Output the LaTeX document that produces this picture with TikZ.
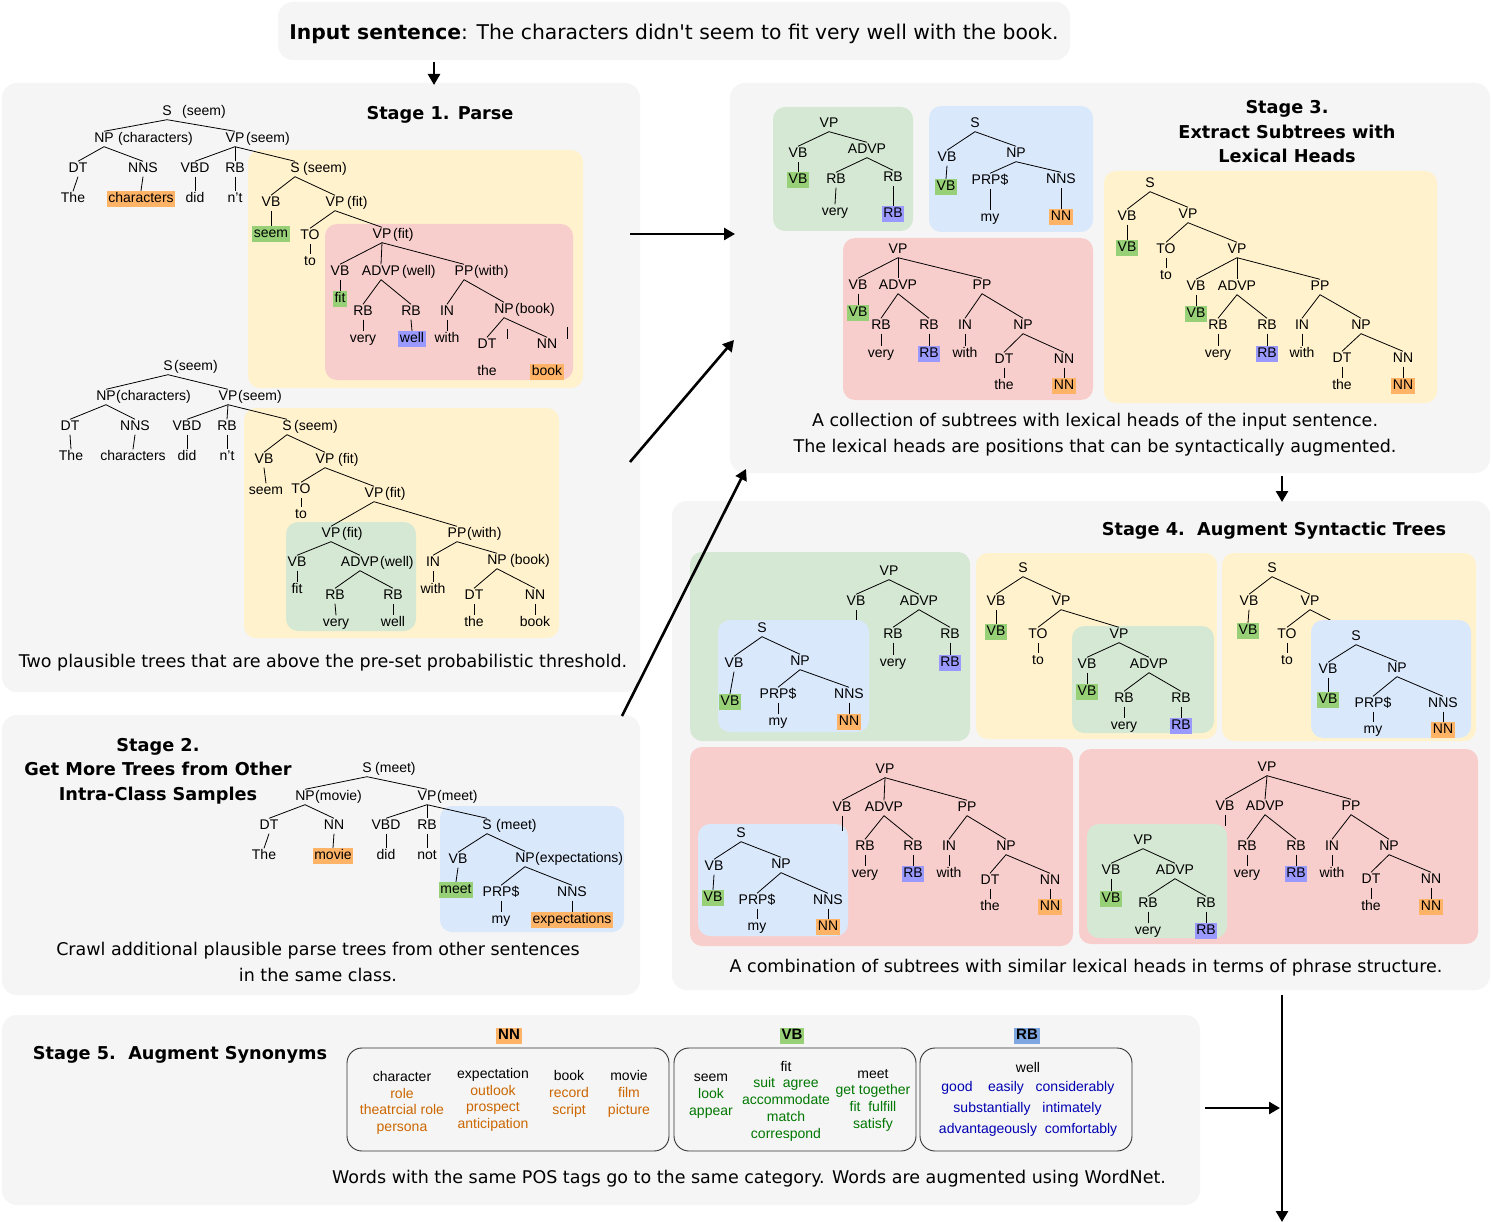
\documentclass[tikz,border=0pt]{standalone}
\usepackage{fontspec}
\setmainfont{Liberation Sans}
\newfontfamily\vfont{DejaVu Sans}
\usetikzlibrary{arrows.meta}
\definecolor{panel}{HTML}{F5F5F5}
\definecolor{byel}{HTML}{FFF2CC}
\definecolor{bpink}{HTML}{F8CECC}
\definecolor{bgreen}{HTML}{D5E8D4}
\definecolor{bblue}{HTML}{DAE8FC}
\definecolor{hor}{HTML}{FFB366}
\definecolor{hgr}{HTML}{97D077}
\definecolor{hbl}{HTML}{9999FF}
\definecolor{hbltwo}{HTML}{7EA6E0}
\definecolor{wor}{HTML}{CC6600}
\definecolor{wgr}{HTML}{007700}
\definecolor{wbl}{HTML}{0000B3}
\tikzset{
 tl/.style={font=\fontsize{14}{16}\selectfont, inner xsep=0.5pt, inner ysep=1pt, text height=10pt, text depth=3pt, yshift=-2pt},
 hlt/.style={tl, inner xsep=1.5pt, inner ysep=1.5pt},
 tedge/.style={line width=0.8pt},
 arr/.style={line width=2.6pt,-{Triangle[length=11pt,width=12pt]}},
 panelbox/.style={fill=panel, rounded corners=15pt},
 tbox/.style={rounded corners=12pt},
 synbox/.style={draw=black!80, line width=0.9pt, rounded corners=15pt},
 ttl/.style={font=\vfont\bfseries\fontsize{17.7}{24.5}\selectfont, align=center, inner sep=0pt, yshift=-2pt},
 capt/.style={font=\vfont\fontsize{17.5}{26}\selectfont, align=center, inner sep=0pt, yshift=-2.5pt},
 syn/.style={font=\fontsize{14}{16.7}\selectfont, align=center, inner sep=0pt, yshift=-2pt},
 hdr/.style={font=\bfseries\fontsize{15}{17}\selectfont, inner xsep=2pt, inner ysep=1pt, text height=11pt, text depth=3pt, yshift=-1.5pt},
}
\newcommand\TN[4]{\node[tl] (#1) at (#2,#3) {#4};}
\newcommand\TNH[6]{\node[tl] (#1) at (#2,#3) {#4};\node[tl,anchor=west,inner xsep=0pt] (#1h) at (#5,#3) {#6};}
\newcommand\THL[5]{\node[hlt,fill=#5] (#1) at (#2,#3) {#4};}
\newcommand\TE[2]{\foreach \kid in {#2}{\draw[tedge] (#1.south) -- (\kid.north);}}
\begin{document}
\begin{tikzpicture}[x=1pt,y=-1pt]
\useasboundingbox (0,0) rectangle (1493,1222);
\fill[white] (0,0) rectangle (1493,1222);
% panels
\fill[panelbox] (278,2) rectangle (1070,60);
\fill[panelbox] (2,83) rectangle (640,692);
\fill[panelbox] (2,715) rectangle (640,995);
\fill[panelbox] (730,83) rectangle (1490,473);
\fill[panelbox] (672,501) rectangle (1490,990);
\fill[panelbox] (2,1015) rectangle (1200,1205);
% tree boxes
\fill[tbox,byel] (248,150) rectangle (583,388);
\fill[tbox,bpink] (325,224) rectangle (573,380);
\fill[tbox,byel] (244,408) rectangle (559,638);
\fill[tbox,bgreen] (286,522) rectangle (416,631);
\fill[tbox,bblue] (440,806) rectangle (624,932);
\fill[tbox,bgreen] (773,107) rectangle (913,231);
\fill[tbox,bblue] (929,106) rectangle (1093,232);
\fill[tbox,bpink] (843,238) rectangle (1093,400);
\fill[tbox,byel] (1104,171) rectangle (1437,403);
\fill[tbox,bgreen] (690,552) rectangle (970,741);
\fill[tbox,byel] (976,553) rectangle (1217,739);
\fill[tbox,byel] (1222,553) rectangle (1476,741);
\fill[tbox,bpink] (690,747) rectangle (1073,946);
\fill[tbox,bpink] (1079,749) rectangle (1478,944);
% stubs hidden under inner boxes
\TN{hVB}{856}{600}{VB}
\coordinate (hst) at (856,622);
\draw[tedge] (hVB.south) -- (hst);
\TN{jVP}{1310}{600}{VP}
\coordinate (jst) at (1334,622);
\draw[tedge] (jVP.south) -- (jst);
\fill[tbox,bblue] (718,620) rectangle (869,732);
\fill[tbox,bgreen] (1072,626) rectangle (1214,733);
\fill[tbox,bblue] (1311,620) rectangle (1471,738);
\fill[tbox,bblue] (698,824) rectangle (848,936);
\fill[tbox,bgreen] (1087,824) rectangle (1227,938);
% synonym boxes
\draw[synbox] (347,1048) rectangle (669,1151);
\draw[synbox] (674,1048) rectangle (916,1151);
\draw[synbox] (920,1048) rectangle (1132,1151);
% arrows
\coordinate (ar1a) at (434,62); \coordinate (ar1b) at (434,85);
\coordinate (ar2a) at (630,234); \coordinate (ar2b) at (735,234);
\coordinate (ar3a) at (630,462); \coordinate (ar3b) at (734,340);
\coordinate (ar4a) at (622,716); \coordinate (ar4b) at (746,469);
\coordinate (ar5a) at (1282,476); \coordinate (ar5b) at (1282,502);
\coordinate (ar6a) at (1282,995); \coordinate (ar6b) at (1282,1222);
\coordinate (ar7a) at (1205,1108); \coordinate (ar7b) at (1280,1108);
\foreach \a in {1,...,7}{\draw[arr] (ar\a a) -- (ar\a b);}
% input
\node[font=\vfont\fontsize{20.3}{24}\selectfont, inner sep=0pt, yshift=-3pt] (inp) at (674,31) {\textbf{Input sentence}: The characters didn't seem to fit very well with the book.};
% titles
\node[ttl] (t1) at (440,113) {Stage 1. Parse};
\node[ttl] (t2) at (158,769) {Stage 2.\\Get More Trees from Other\\Intra-Class Samples};
\node[ttl] (t3) at (1287,130) {Stage 3.\\Extract Subtrees with\\Lexical Heads};
\node[ttl] (t4) at (1274,529) {Stage 4.\ \ Augment Syntactic Trees};
\node[ttl] (t5) at (180,1053) {Stage 5.\ \ Augment Synonyms};
% captions
\node[capt] (c1) at (323,660) {Two plausible trees that are above the pre-set probabilistic threshold.};
\node[capt] (c2) at (318,959) {Crawl additional plausible parse trees from other sentences\\in the same class.};
\node[capt] (c3) at (1095,432) {A collection of subtrees with lexical heads of the input sentence.\\The lexical heads are positions that can be syntactically augmented.};
\node[capt] (c4) at (1086,965) {A combination of subtrees with similar lexical heads in terms of phrase structure.};
\node[capt] (c5) at (749,1176) {Words with the same POS tags go to the same category. Words are augmented using WordNet.};
% ===== Tree A =====
\TNH{aS}{167}{110}{S}{182}{(seem)}
\TNH{aNP}{104}{137}{NP}{118}{(characters)}
\TNH{aVP}{235}{137}{VP}{246}{(seem)}
\TN{aDT}{78}{167}{DT}
\TN{aNNS}{143}{167}{NNS}
\TN{aVBD}{195}{167}{VBD}
\TN{aRB}{235}{167}{RB}
\TNH{aS2}{295}{167}{S}{303}{(seem)}
\TN{aw1}{73}{197}{The}
\THL{aw2}{141}{197}{characters}{hor}
\TN{aw3}{195}{197}{did}
\TN{aw4}{235}{197}{n't}
\TN{aVB}{271}{201}{VB}
\TNH{aVP2}{335}{201}{VP}{347}{(fit)}
\THL{aw5}{271}{232}{seem}{hgr}
\TN{aTO}{310}{234}{TO}
\TN{aw6}{310}{260}{to}
\TNH{aVP3}{382}{233}{VP}{393}{(fit)}
\TN{aVB2}{340}{270}{VB}
\TNH{aADVP}{381}{270}{ADVP}{402}{(well)}
\TNH{aPP}{464}{270}{PP}{474}{(with)}
\THL{aw7}{340}{297}{fit}{hgr}
\TN{aRB1}{363}{310}{RB}
\TN{aRB2}{411}{310}{RB}
\TN{aIN}{447}{310}{IN}
\TNH{aNP2}{504}{308}{NP}{515}{(book)}
\TN{aw8}{363}{337}{very}
\THL{aw9}{412}{337}{well}{hbl}
\TN{aw10}{447}{337}{with}
\TN{aDT2}{487}{343}{DT}
\TN{aNN}{547}{343}{NN}
\TN{aw11}{487}{370}{the}
\THL{aw12}{547}{370}{book}{hor}
\TE{aS}{aNP,aVP}\TE{aNP}{aDT,aNNS}\TE{aVP}{aVBD,aRB,aS2}
\TE{aDT}{aw1}\TE{aNNS}{aw2}\TE{aVBD}{aw3}\TE{aRB}{aw4}
\TE{aS2}{aVB,aVP2}\TE{aVB}{aw5}\TE{aVP2}{aTO,aVP3}\TE{aTO}{aw6}
\TE{aVP3}{aVB2,aADVP,aPP}\TE{aVB2}{aw7}\TE{aADVP}{aRB1,aRB2}\TE{aPP}{aIN,aNP2}
\TE{aRB1}{aw8}\TE{aRB2}{aw9}\TE{aIN}{aw10}\TE{aNP2}{aDT2,aNN}
\coordinate (sa1) at (507,329); \coordinate (sa2) at (507,339);
\coordinate (sb1) at (567,327); \coordinate (sb2) at (567,339);
\draw[tedge] (sa1) -- (sa2); \draw[tedge] (sb1) -- (sb2);
% ===== Tree B =====
\TNH{bS}{168}{365}{S}{174}{(seem)}
\TNH{bNP}{106}{395}{NP}{116}{(characters)}
\TNH{bVP}{228}{395}{VP}{238}{(seem)}
\TN{bDT}{70}{425}{DT}
\TN{bNNS}{135}{425}{NNS}
\TN{bVBD}{187}{425}{VBD}
\TN{bRB}{227}{425}{RB}
\TNH{bS2}{287}{425}{S}{294}{(seem)}
\TN{bw1}{71}{455}{The}
\TN{bw2}{133}{455}{characters}
\TN{bw3}{187}{455}{did}
\TN{bw4}{227}{455}{n't}
\TN{bVB}{264}{458}{VB}
\TNH{bVP2}{325}{458}{VP}{338}{(fit)}
\TN{bw5}{266}{489}{seem}
\TN{bTO}{301}{488}{TO}
\TN{bw6}{301}{513}{to}
\TNH{bVP3}{374}{492}{VP}{385}{(fit)}
\TNH{bVP4}{331}{532}{VP}{342}{(fit)}
\TNH{bPP}{457}{532}{PP}{467}{(with)}
\TN{bVB2}{297}{561}{VB}
\TNH{bADVP}{360}{561}{ADVP}{380}{(well)}
\TN{bIN}{433}{561}{IN}
\TNH{bNP2}{497}{559}{NP}{510}{(book)}
\TN{bw7}{297}{588}{fit}
\TN{bw8}{433}{588}{with}
\TN{bRB1}{335}{594}{RB}
\TN{bRB2}{393}{594}{RB}
\TN{bDT2}{474}{594}{DT}
\TN{bNN}{535}{594}{NN}
\TN{bw9}{336}{621}{very}
\TN{bw10}{393}{621}{well}
\TN{bw11}{474}{621}{the}
\TN{bw12}{535}{621}{book}
\TE{bS}{bNP,bVP}\TE{bNP}{bDT,bNNS}\TE{bVP}{bVBD,bRB,bS2}
\TE{bDT}{bw1}\TE{bNNS}{bw2}\TE{bVBD}{bw3}\TE{bRB}{bw4}
\TE{bS2}{bVB,bVP2}\TE{bVB}{bw5}\TE{bVP2}{bTO,bVP3}\TE{bTO}{bw6}
\TE{bVP3}{bVP4,bPP}\TE{bVP4}{bVB2,bADVP}\TE{bPP}{bIN,bNP2}
\TE{bVB2}{bw7}\TE{bIN}{bw8}\TE{bADVP}{bRB1,bRB2}\TE{bNP2}{bDT2,bNN}
\TE{bRB1}{bw9}\TE{bRB2}{bw10}\TE{bDT2}{bw11}\TE{bNN}{bw12}
% ===== Tree C =====
\TNH{cS}{367}{767}{S}{375}{(meet)}
\TNH{cNP}{305}{795}{NP}{315}{(movie)}
\TNH{cVP}{427}{795}{VP}{437}{(meet)}
\TN{cDT}{269}{824}{DT}
\TN{cNN}{334}{824}{NN}
\TN{cVBD}{386}{824}{VBD}
\TN{cRB}{427}{824}{RB}
\TNH{cS2}{487}{824}{S}{496}{(meet)}
\TN{cw1}{264}{854}{The}
\THL{cw2}{333}{854}{movie}{hor}
\TN{cw3}{386}{854}{did}
\TN{cw4}{427}{854}{not}
\TN{cVB}{458}{858}{VB}
\TNH{cNP2}{525}{857}{NP}{535}{(expectations)}
\THL{cw5}{456}{888}{meet}{hgr}
\TN{cPRP}{501}{891}{PRP\$}
\TN{cNNS}{572}{891}{NNS}
\TN{cw6}{501}{918}{my}
\THL{cw7}{572}{918}{expectations}{hor}
\TE{cS}{cNP,cVP}\TE{cNP}{cDT,cNN}\TE{cVP}{cVBD,cRB,cS2}
\TE{cDT}{cw1}\TE{cNN}{cw2}\TE{cVBD}{cw3}\TE{cRB}{cw4}
\TE{cS2}{cVB,cNP2}\TE{cVB}{cw5}\TE{cNP2}{cPRP,cNNS}\TE{cPRP}{cw6}\TE{cNNS}{cw7}
% ===== Stage 3 =====
\TN{dVP}{829}{122}{VP}
\TN{dVB}{798}{152}{VB}
\TN{dADVP}{867}{148}{ADVP}
\THL{dVBl}{798}{178}{VB}{hgr}
\TN{dRB1}{836}{178}{RB}
\TN{dRB2}{893}{176}{RB}
\TN{dw1}{835}{210}{very}
\THL{dRBl}{893}{212}{RB}{hbl}
\TE{dVP}{dVB,dADVP}\TE{dVB}{dVBl}\TE{dADVP}{dRB1,dRB2}\TE{dRB1}{dw1}\TE{dRB2}{dRBl}
\TN{eS}{975}{122}{S}
\TN{eVB}{947}{156}{VB}
\TN{eNP}{1016}{152}{NP}
\THL{eVBl}{946}{185}{VB}{hgr}
\TN{ePRP}{990}{179}{PRP\$}
\TN{eNNS}{1061}{178}{NNS}
\TN{ew1}{990}{216}{my}
\THL{eNNl}{1061}{215}{NN}{hor}
\TE{eS}{eVB,eNP}\TE{eVB}{eVBl}\TE{eNP}{ePRP,eNNS}\TE{ePRP}{ew1}\TE{eNNS}{eNNl}
\TN{fVP}{898}{248}{VP}
\TN{fVB}{858}{284}{VB}
\TN{fADVP}{898}{284}{ADVP}
\TN{fPP}{982}{284}{PP}
\THL{fVBl}{858}{311}{VB}{hgr}
\TN{fRB1}{881}{324}{RB}
\TN{fRB2}{929}{324}{RB}
\TN{fIN}{965}{324}{IN}
\TN{fNP}{1023}{324}{NP}
\TN{fw1}{881}{352}{very}
\THL{fRBl}{929}{352}{RB}{hbl}
\TN{fw2}{965}{352}{with}
\TN{fDT}{1004}{358}{DT}
\TN{fNN}{1064}{358}{NN}
\TN{fw3}{1004}{384}{the}
\THL{fNNl}{1064}{384}{NN}{hor}
\TE{fVP}{fVB,fADVP,fPP}\TE{fVB}{fVBl}\TE{fADVP}{fRB1,fRB2}\TE{fPP}{fIN,fNP}
\TE{fRB1}{fw1}\TE{fRB2}{fRBl}\TE{fIN}{fw2}\TE{fNP}{fDT,fNN}\TE{fDT}{fw3}\TE{fNN}{fNNl}
\TN{gS}{1150}{182}{S}
\TN{gVB}{1127}{215}{VB}
\TN{gVP}{1188}{213}{VP}
\THL{gVBl}{1127}{246}{VB}{hgr}
\TN{gTO}{1166}{248}{TO}
\TN{gw1}{1166}{274}{to}
\TN{gVP2}{1237}{248}{VP}
\TN{gVB2}{1196}{285}{VB}
\TN{gADVP}{1237}{285}{ADVP}
\TN{gPP}{1320}{285}{PP}
\THL{gVBl2}{1196}{312}{VB}{hgr}
\TN{gRB1}{1218}{324}{RB}
\TN{gRB2}{1267}{324}{RB}
\TN{gIN}{1302}{324}{IN}
\TN{gNP}{1361}{324}{NP}
\TN{gw2}{1218}{352}{very}
\THL{gRBl}{1267}{352}{RB}{hbl}
\TN{gw3}{1302}{352}{with}
\TN{gDT}{1342}{357}{DT}
\TN{gNN}{1403}{357}{NN}
\TN{gw4}{1342}{384}{the}
\THL{gNNl}{1403}{384}{NN}{hor}
\TE{gS}{gVB,gVP}\TE{gVB}{gVBl}\TE{gVP}{gTO,gVP2}\TE{gTO}{gw1}
\TE{gVP2}{gVB2,gADVP,gPP}\TE{gVB2}{gVBl2}\TE{gADVP}{gRB1,gRB2}\TE{gPP}{gIN,gNP}
\TE{gRB1}{gw2}\TE{gRB2}{gRBl}\TE{gIN}{gw3}\TE{gNP}{gDT,gNN}\TE{gDT}{gw4}\TE{gNN}{gNNl}
% ===== Stage 4 =====
\TN{hVP}{889}{570}{VP}
\TN{hADVP}{919}{600}{ADVP}
\TN{hRB1}{893}{633}{RB}
\TN{hRB2}{950}{633}{RB}
\TN{hw1}{893}{661}{very}
\THL{hRBl}{950}{661}{RB}{hbl}
\TE{hVP}{hVB,hADVP}\TE{hADVP}{hRB1,hRB2}\TE{hRB1}{hw1}\TE{hRB2}{hRBl}
\TN{hS}{762}{627}{S}
\TN{hVB2}{734}{662}{VB}
\TN{hNP}{800}{660}{NP}
\THL{hVBl}{730}{700}{VB}{hgr}
\TN{hPRP}{778}{693}{PRP\$}
\TN{hNNS}{849}{693}{NNS}
\TN{hw2}{778}{720}{my}
\THL{hNNl}{849}{720}{NN}{hor}
\TE{hS}{hVB2,hNP}\TE{hVB2}{hVBl}\TE{hNP}{hPRP,hNNS}\TE{hPRP}{hw2}\TE{hNNS}{hNNl}
\TN{iS}{1023}{567}{S}
\TN{iVB}{996}{600}{VB}
\TN{iVP}{1061}{600}{VP}
\THL{iVBl}{996}{630}{VB}{hgr}
\TN{iTO}{1038}{633}{TO}
\TN{iw1}{1038}{659}{to}
\TN{iVP2}{1119}{633}{VP}
\TN{iVB2}{1087}{663}{VB}
\TN{iADVP}{1149}{663}{ADVP}
\THL{iVBl2}{1087}{690}{VB}{hgr}
\TN{iRB1}{1124}{697}{RB}
\TN{iRB2}{1181}{697}{RB}
\TN{iw2}{1124}{724}{very}
\THL{iRBl}{1181}{724}{RB}{hbl}
\TE{iS}{iVB,iVP}\TE{iVB}{iVBl}\TE{iVP}{iTO,iVP2}\TE{iTO}{iw1}
\TE{iVP2}{iVB2,iADVP}\TE{iVB2}{iVBl2}\TE{iADVP}{iRB1,iRB2}\TE{iRB1}{iw2}\TE{iRB2}{iRBl}
\TN{jS}{1272}{567}{S}
\TN{jVB}{1249}{600}{VB}
\THL{jVBl}{1248}{629}{VB}{hgr}
\TN{jTO}{1287}{633}{TO}
\TN{jw1}{1287}{659}{to}
\TE{jS}{jVB,jVP}\TE{jVB}{jVBl}\TE{jVP}{jTO}\TE{jTO}{jw1}
\TN{jS2}{1356}{635}{S}
\TN{jVB2}{1328}{668}{VB}
\TN{jNP}{1397}{667}{NP}
\THL{jVBl2}{1328}{698}{VB}{hgr}
\TN{jPRP}{1373}{702}{PRP\$}
\TN{jNNS}{1443}{702}{NNS}
\TN{jw2}{1373}{728}{my}
\THL{jNNl}{1443}{728}{NN}{hor}
\TE{jS2}{jVB2,jNP}\TE{jVB2}{jVBl2}\TE{jNP}{jPRP,jNNS}\TE{jPRP}{jw2}\TE{jNNS}{jNNl}
\TN{kVP}{885}{768}{VP}
\TN{kVB}{842}{806}{VB}
\TN{kADVP}{884}{806}{ADVP}
\TN{kPP}{967}{806}{PP}
\coordinate (kst) at (842,831);
\draw[tedge] (kVB.south) -- (kst);
\TN{kRB1}{865}{845}{RB}
\TN{kRB2}{913}{845}{RB}
\TN{kIN}{949}{845}{IN}
\TN{kNP}{1006}{845}{NP}
\TN{kw1}{865}{872}{very}
\THL{kRBl}{913}{872}{RB}{hbl}
\TN{kw2}{949}{872}{with}
\TN{kDT}{990}{879}{DT}
\TN{kNN}{1050}{879}{NN}
\TN{kw3}{990}{905}{the}
\THL{kNNl}{1050}{905}{NN}{hor}
\TE{kVP}{kVB,kADVP,kPP}\TE{kADVP}{kRB1,kRB2}\TE{kPP}{kIN,kNP}
\TE{kRB1}{kw1}\TE{kRB2}{kRBl}\TE{kIN}{kw2}\TE{kNP}{kDT,kNN}\TE{kDT}{kw3}\TE{kNN}{kNNl}
\TN{kS}{741}{832}{S}
\TN{kVB2}{714}{865}{VB}
\TN{kNP2}{781}{863}{NP}
\THL{kVBl}{713}{896}{VB}{hgr}
\TN{kPRP}{757}{899}{PRP\$}
\TN{kNNS}{828}{899}{NNS}
\TN{kw4}{757}{925}{my}
\THL{kNNl2}{828}{925}{NN}{hor}
\TE{kS}{kVB2,kNP2}\TE{kVB2}{kVBl}\TE{kNP2}{kPRP,kNNS}\TE{kPRP}{kw4}\TE{kNNS}{kNNl2}
\TN{lVP}{1267}{766}{VP}
\TN{lVB}{1225}{805}{VB}
\TN{lADVP}{1265}{805}{ADVP}
\TN{lPP}{1351}{805}{PP}
\coordinate (lst) at (1225,826);
\draw[tedge] (lVB.south) -- (lst);
\TN{lRB1}{1247}{845}{RB}
\TN{lRB2}{1296}{845}{RB}
\TN{lIN}{1332}{845}{IN}
\TN{lNP}{1389}{845}{NP}
\TN{lw1}{1247}{872}{very}
\THL{lRBl}{1296}{872}{RB}{hbl}
\TN{lw2}{1332}{872}{with}
\TN{lDT}{1371}{878}{DT}
\TN{lNN}{1431}{878}{NN}
\TN{lw3}{1371}{905}{the}
\THL{lNNl}{1431}{905}{NN}{hor}
\TE{lVP}{lVB,lADVP,lPP}\TE{lADVP}{lRB1,lRB2}\TE{lPP}{lIN,lNP}
\TE{lRB1}{lw1}\TE{lRB2}{lRBl}\TE{lIN}{lw2}\TE{lNP}{lDT,lNN}\TE{lDT}{lw3}\TE{lNN}{lNNl}
\TN{lVP2}{1143}{839}{VP}
\TN{lVB2}{1111}{869}{VB}
\TN{lADVP2}{1175}{869}{ADVP}
\THL{lVBl}{1111}{897}{VB}{hgr}
\TN{lRB3}{1148}{902}{RB}
\TN{lRB4}{1206}{902}{RB}
\TN{lw4}{1148}{929}{very}
\THL{lRBl2}{1206}{929}{RB}{hbl}
\TE{lVP2}{lVB2,lADVP2}\TE{lVB2}{lVBl}\TE{lADVP2}{lRB3,lRB4}\TE{lRB3}{lw4}\TE{lRB4}{lRBl2}
% ===== Stage 5 =====
\node[hdr,fill=hor] (nnh) at (509,1034) {NN};
\node[hdr,fill=hgr] (vbh) at (792,1034) {VB};
\node[hdr,fill=hbltwo] (rbh) at (1027,1034) {RB};
\node[syn] (s1) at (402,1101) {character\\\textcolor{wor}{role}\\\textcolor{wor}{theatrcial role}\\\textcolor{wor}{persona}};
\node[syn] (s2) at (493,1098) {expectation\\\textcolor{wor}{outlook}\\\textcolor{wor}{prospect}\\\textcolor{wor}{anticipation}};
\node[syn] (s3) at (569,1092) {book\\\textcolor{wor}{record}\\\textcolor{wor}{script}};
\node[syn] (s4) at (629,1092) {movie\\\textcolor{wor}{film}\\\textcolor{wor}{picture}};
\node[syn] (s5) at (711,1094) {seem\\\textcolor{wgr}{look}\\\textcolor{wgr}{appear}};
\node[syn] (s6) at (786,1099) {fit\\\textcolor{wgr}{suit\ \ agree}\\\textcolor{wgr}{accommodate}\\\textcolor{wgr}{match}\\\textcolor{wgr}{correspond}};
\node[syn] (s7) at (873,1098) {meet\\\textcolor{wgr}{get together}\\\textcolor{wgr}{fit\ \ fulfill}\\\textcolor{wgr}{satisfy}};
\node[syn] (s8) at (1028,1065) {well};
\node[syn,text=wbl] (s9) at (957,1086) {good};
\node[syn,text=wbl] (s10) at (1006,1086) {easily};
\node[syn,text=wbl] (s11) at (1075,1086) {considerably};
\node[syn,text=wbl] (s12) at (992,1107) {substantially};
\node[syn,text=wbl] (s13) at (1072,1107) {intimately};
\node[syn,text=wbl] (s14) at (988,1128) {advantageously};
\node[syn,text=wbl] (s15) at (1081,1128) {comfortably};
\end{tikzpicture}
\end{document}
